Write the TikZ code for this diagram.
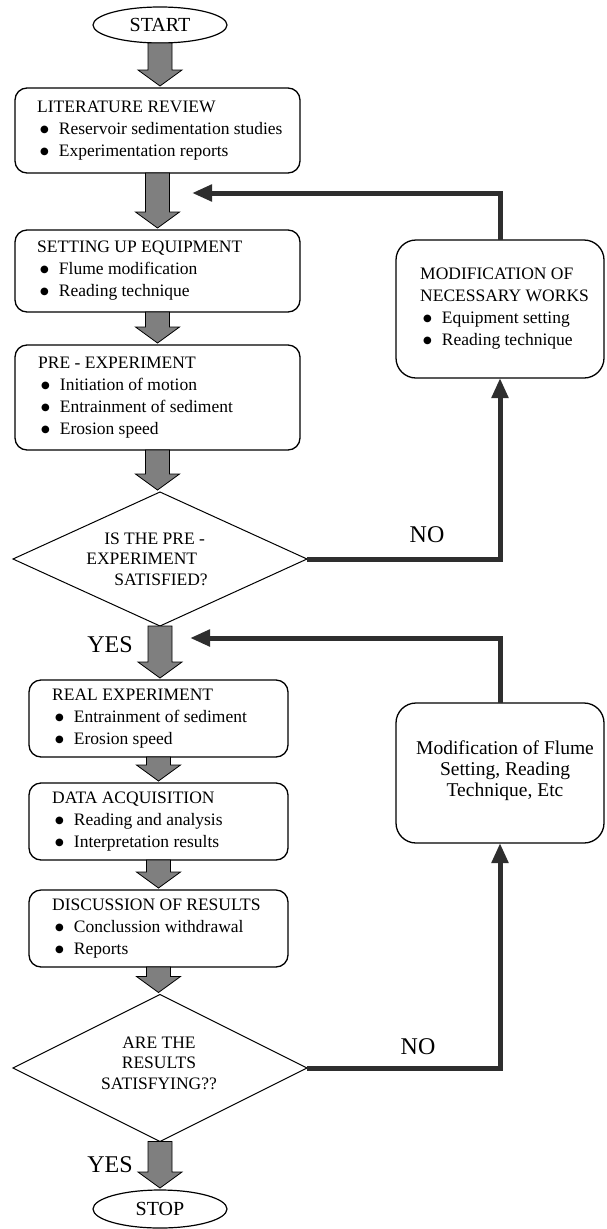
\documentclass[tikz,border=0pt]{standalone}
\usepackage{fontspec}
\setmainfont{Liberation Serif}
\newfontfamily\dotfont{DejaVu Sans}
\usetikzlibrary{shapes.geometric}
\usetikzlibrary{arrows.meta}
\usetikzlibrary{calc}
\definecolor{flowgray}{HTML}{7F7F7F}
\definecolor{loopgray}{HTML}{2E2E2E}
\newcommand{\bul}{\hspace*{3pt}\raisebox{2pt}{\dotfont\fontsize{10}{10}\selectfont ●}\hspace*{10pt}}
\newcommand{\grayarrow}[2]{%
  \filldraw[flow] let \p1=(#1), \p2=(#2) in
    ({\x1-12pt},{\y1}) -- ({\x1+12pt},{\y1}) -- ({\x1+12pt},{\y2+18pt})
    -- ({\x1+22pt},{\y2+18pt}) -- ({\x1},{\y2+2pt}) -- ({\x1-22pt},{\y2+18pt})
    -- ({\x1-12pt},{\y2+18pt}) -- cycle;}

\begin{document}
\begin{tikzpicture}[x=1pt,y=-1pt,
  box/.style={draw,line width=1.3pt,rounded corners=12pt,minimum width=285,inner sep=0,outer sep=0},
  lowbox/.style={box,minimum width=259},
  sidebox/.style={draw,line width=1.3pt,rounded corners=20pt,minimum width=208,inner sep=0,outer sep=0},
  terminal/.style={draw,ellipse,line width=1.2pt,minimum width=134,minimum height=36,inner sep=0,outer sep=0,font=\fontsize{20}{24}\selectfont},
  decision/.style={draw,diamond,line width=1pt,minimum width=294,inner sep=0,outer sep=0},
  txt/.style={align=left,inner sep=0,font=\fontsize{17.5}{22}\selectfont},
  qtxt/.style={inner sep=0,font=\fontsize{17.5}{20.5}\selectfont},
  answer/.style={inner sep=0,font=\fontsize{24}{28}\selectfont},
  flow/.style={fill=flowgray,draw=black,line width=0.8pt},
  back/.style={draw=loopgray,line width=5pt,-{Triangle[length=20pt,width=16pt]}}]
\useasboundingbox (0,0) rectangle (607,1229);
\node[terminal] (start) at (160,25) {START};
\node[box,minimum height=85] (lit) at (157.5,130.5) {};
\node[txt,anchor=west] (littxt) at ([xshift=22pt]lit.west) {LITERATURE REVIEW\\\bul Reservoir sedimentation studies\\\bul Experimentation reports};
\node[box,minimum height=82] (set) at (157.5,271) {};
\node[txt,anchor=west] (settxt) at ([xshift=22pt]set.west) {SETTING UP EQUIPMENT\\\bul Flume modification\\\bul Reading technique};
\node[box,minimum height=105] (pre) at (157.5,397.5) {};
\node[txt,anchor=west] (pretxt) at ([xshift=23pt]pre.west) {PRE - EXPERIMENT\\\bul Initiation of motion\\\bul Entrainment of sediment\\\bul Erosion speed};
\node[decision,minimum height=134] (d1) at (160,559) {};
\node[qtxt,align=left] (d1txt) at (147,559) {\hspace*{18pt}IS THE PRE -\\EXPERIMENT\\\hspace*{28pt}SATISFIED?};
\node[lowbox,minimum height=77] (real) at (158.5,718.5) {};
\node[txt,anchor=west] (realtxt) at ([xshift=23pt]real.west) {REAL EXPERIMENT\\\bul Entrainment of sediment\\\bul Erosion speed};
\node[lowbox,minimum height=77] (data) at (158.5,821.5) {};
\node[txt,anchor=west] (datatxt) at ([xshift=23pt]data.west) {DATA ACQUISITION\\\bul Reading and analysis\\\bul Interpretation results};
\node[lowbox,minimum height=77] (disc) at (158.5,928.5) {};
\node[txt,anchor=west] (disctxt) at ([xshift=23pt]disc.west) {DISCUSSION OF RESULTS\\\bul Conclussion withdrawal\\\bul Reports};
\node[decision,minimum height=147] (d2) at (160,1068) {};
\node[qtxt,align=center] (d2txt) at (159,1063) {ARE THE\\RESULTS\\SATISFYING??};
\node[terminal,minimum height=38] (stop) at (160,1209) {STOP};
\node[sidebox,minimum height=138] (mod1) at (500,309) {};
\node[txt,anchor=west] (mod1txt) at ([xshift=24pt]mod1.west) {MODIFICATION OF\\NECESSARY WORKS\\\bul Equipment setting\\\bul Reading technique};
\node[sidebox,minimum height=140] (mod2) at (500,773) {};
\node[txt,align=center,font=\fontsize{19.5}{21}\selectfont] (mod2txt) at (505,771) {Modification of Flume\\Setting, Reading\\Technique, Etc};
\node[answer] (yes1) at (110,645) {YES};
\node[answer] (yes2) at (110,1165) {YES};
\node[answer] (no1) at (427,535) {NO};
\node[answer] (no2) at (418,1047) {NO};
\coordinate (back1) at (192,193);
\coordinate (back2) at (190,638);
\foreach \a/\b in {start/lit,lit/set,set/pre,pre/d1,d1/real,real/data,data/disc,disc/d2,d2/stop}
  \grayarrow{\a.south}{\b.north};
\draw[back] (mod1.north) |- (back1);
\draw[back] (d1.east) -| (mod1.south);
\draw[back] (mod2.north) |- (back2);
\draw[back] (d2.east) -| (mod2.south);
\end{tikzpicture}
\end{document}
